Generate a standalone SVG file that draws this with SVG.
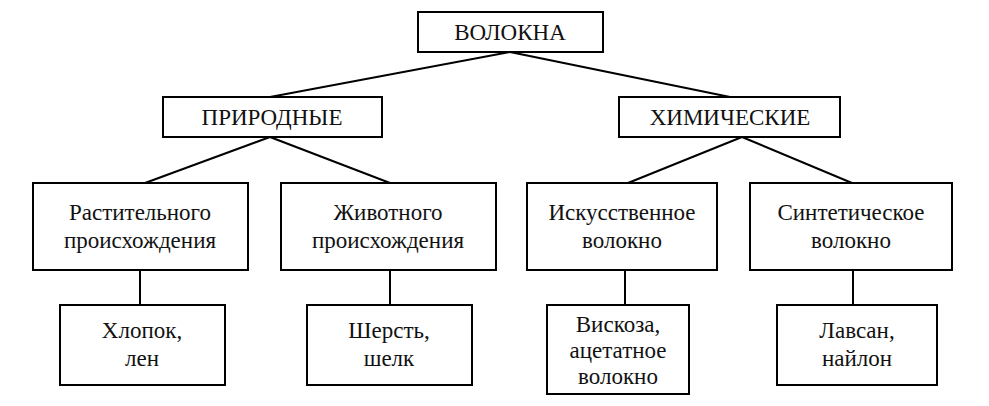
<svg xmlns="http://www.w3.org/2000/svg" width="989" height="406" viewBox="0 0 989 406">
<style>
rect{fill:#fff;stroke:#000;stroke-width:2}
text{font-family:'Liberation Serif','DejaVu Serif',serif;font-size:23px;text-anchor:middle;fill:#111}
.c line{stroke:#000;stroke-width:2}
</style>
<rect x="0" y="0" width="989" height="406" style="stroke:none"/>
<g class="c">
<line x1="510" y1="52" x2="270" y2="97"/><line x1="510" y1="52" x2="730" y2="97"/>
<line x1="270" y1="137" x2="145" y2="183"/><line x1="270" y1="137" x2="390" y2="183"/>
<line x1="742" y1="137" x2="628" y2="183"/><line x1="742" y1="137" x2="852" y2="183"/>
<line x1="140" y1="270" x2="140" y2="305"/><line x1="390" y1="270" x2="390" y2="305"/>
<line x1="625" y1="270" x2="625" y2="305"/><line x1="853" y1="270" x2="853" y2="305"/>
</g>
<g id="n0"><rect x="418" y="12" width="185" height="40"/><text x="510" y="40" font-family="Liberation Serif, serif">ВОЛОКНА</text></g>
<g id="n1"><rect x="163" y="97" width="219" height="40"/><text x="272" y="125">ПРИРОДНЫЕ</text></g>
<g id="n2"><rect x="619" y="97" width="221" height="40"/><text x="730" y="125">ХИМИЧЕСКИЕ</text></g>
<g id="n3"><rect x="33" y="183" width="215" height="87"/><text x="140" y="220">Растительного</text><text x="140" y="248">происхождения</text></g>
<g id="n4"><rect x="281" y="183" width="215" height="87"/><text x="388" y="220">Животного</text><text x="388" y="248">происхождения</text></g>
<g id="n5"><rect x="527" y="183" width="190" height="87"/><text x="622" y="220">Искусственное</text><text x="622" y="248">волокно</text></g>
<g id="n6"><rect x="750" y="183" width="202" height="87"/><text x="851" y="220">Синтетическое</text><text x="851" y="248">волокно</text></g>
<g id="n7"><rect x="60" y="305" width="165" height="80"/><text x="142" y="338">Хлопок,</text><text x="142" y="366">лен</text></g>
<g id="n8"><rect x="307" y="305" width="165" height="80"/><text x="389" y="338">Шерсть,</text><text x="389" y="366">шелк</text></g>
<g id="n9"><rect x="547" y="305" width="142" height="89"/><text x="618" y="332">Вискоза,</text><text x="618" y="358">ацетатное</text><text x="618" y="384">волокно</text></g>
<g id="n10"><rect x="777" y="305" width="160" height="80"/><text x="857" y="338">Лавсан,</text><text x="857" y="366">найлон</text></g>
</svg>
